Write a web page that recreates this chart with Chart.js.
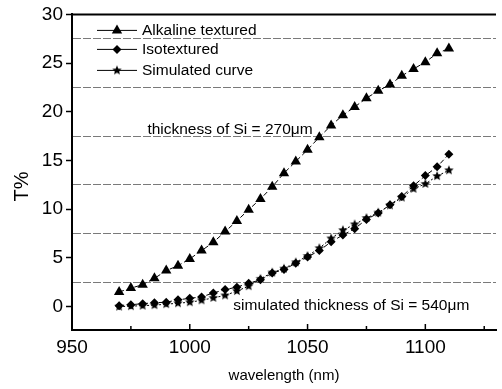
<!DOCTYPE html>
<html>
<head>
<meta charset="utf-8">
<title>T% vs wavelength</title>
<script src="https://cdn.jsdelivr.net/npm/chart.js"></script>
<style>
body { margin: 0; background: white; }
</style>
</head>
<body>
<canvas id="myChart" width="502" height="389"></canvas>
<script>
// data
const wavelength = [970, 975, 980, 985, 990, 995, 1000, 1005, 1010, 1015, 1020, 1025, 1030, 1035, 1040,
  1045, 1050, 1055, 1060, 1065, 1070, 1075, 1080, 1085, 1090, 1095, 1100, 1105, 1110];
const alkaline = [1.5, 1.9, 2.25, 2.9, 3.7, 4.2, 4.9, 5.75, 6.6, 7.7, 8.8, 9.95, 11.05, 12.3, 13.7,
  14.9, 16.1, 17.4, 18.6, 19.65, 20.5, 21.4, 22.15, 22.8, 23.7, 24.4, 25.1, 26.0, 26.5];
const isotextured = [0.1, 0.2, 0.3, 0.4, 0.45, 0.7, 0.85, 1.0, 1.4, 1.75, 2.0, 2.4, 2.75, 3.45, 3.8,
  4.45, 5.1, 5.75, 6.65, 7.35, 8.0, 8.95, 9.6, 10.45, 11.3, 12.4, 13.45, 14.35, 15.65];
const simulated = [0.0, 0.05, 0.1, 0.15, 0.25, 0.35, 0.45, 0.65, 0.9, 1.15, 1.6, 2.1, 2.85, 3.5, 3.9,
  4.55, 5.2, 6.0, 7.0, 7.85, 8.45, 9.1, 9.65, 10.4, 11.2, 12.1, 12.6, 13.4, 14.0];
const seriesNames = ["Alkaline textured", "Isotextured", "Simulated curve"];

const xTicks = [950, 975, 1000, 1025, 1050, 1075, 1100, 1125];
const yTicks = [0, 2.5, 5, 7.5, 10, 12.5, 15, 17.5, 20, 22.5, 25, 27.5, 30];

const noteTexts = ["thickness of Si = 270\u03bcm", "simulated thickness of Si = 540\u03bcm"];
const noteX = [982, 1018.5];
const noteY = [18.2, 0.1];

const FONT = "'Liberation Sans', Arial, sans-serif";

// filled five point star for the simulated curve
function makeStar(r) {
  const c = document.createElement('canvas');
  c.width = c.height = Math.ceil(r * 2) + 2;
  const g = c.getContext('2d');
  const cx = c.width / 2, cy = c.height / 2;
  g.beginPath();
  for (let i = 0; i < 10; i++) {
    const rr = i % 2 ? r * 0.45 : r;
    const a = -Math.PI / 2 + i * Math.PI / 5;
    g.lineTo(cx + rr * Math.cos(a), cy + rr * Math.sin(a));
  }
  g.closePath();
  g.fillStyle = 'black';
  g.fill();
  return c;
}
const star = makeStar(5);

function drawMarker(ctx, kind, x, y) {
  ctx.fillStyle = 'black';
  ctx.beginPath();
  if (kind === 0) {
    const r = 6;
    ctx.moveTo(x, y - r);
    ctx.lineTo(x + r * 0.866, y + r * 0.5);
    ctx.lineTo(x - r * 0.866, y + r * 0.5);
    ctx.closePath();
    ctx.fill();
  } else if (kind === 1) {
    const r = 4.5;
    ctx.moveTo(x, y - r);
    ctx.lineTo(x + r, y);
    ctx.lineTo(x, y + r);
    ctx.lineTo(x - r, y);
    ctx.closePath();
    ctx.fill();
  } else {
    ctx.drawImage(star, x - star.width / 2, y - star.height / 2);
  }
}

const extras = {
  id: 'extras',
  afterDraw(chart) {
    const {ctx, chartArea: a, scales: {x, y}} = chart;
    ctx.save();
    // inward ticks on the x axis
    ctx.strokeStyle = 'black';
    ctx.lineWidth = 1.5;
    x.ticks.forEach(t => {
      const px = x.getPixelForValue(t.value);
      const len = t.value % 50 === 0 ? 6 : 4;
      ctx.beginPath();
      ctx.moveTo(px, a.bottom);
      ctx.lineTo(px, a.bottom - len);
      ctx.stroke();
    });
    // top frame
    ctx.lineWidth = 2;
    ctx.beginPath();
    ctx.moveTo(a.left, a.top);
    ctx.lineTo(a.right, a.top);
    ctx.stroke();

    // y title, sits a little below the middle in the original
    ctx.save();
    ctx.translate(22, a.top + (a.bottom - a.top) * 0.545);
    ctx.rotate(-Math.PI / 2);
    ctx.font = "20px " + FONT;
    ctx.fillStyle = 'black';
    ctx.textAlign = 'center';
    ctx.textBaseline = 'middle';
    ctx.fillText('T%', 0, 0);
    ctx.restore();

    // legend
    const rows = [16, 35, 56];
    ctx.font = "15.5px " + FONT;
    ctx.textBaseline = 'middle';
    ctx.textAlign = 'left';
    rows.forEach((dy, i) => {
      const ly = a.top + dy;
      ctx.strokeStyle = 'black';
      ctx.lineWidth = 1;
      ctx.beginPath();
      ctx.moveTo(a.left + 25, ly);
      ctx.lineTo(a.left + 65, ly);
      ctx.stroke();
      drawMarker(ctx, i, a.left + 45, ly);
      ctx.fillStyle = 'black';
      ctx.fillText(seriesNames[i], a.left + 70, ly);
    });

    // notes
    noteTexts.forEach((txt, i) => {
      ctx.fillText(txt, x.getPixelForValue(noteX[i]), y.getPixelForValue(noteY[i]));
    });
    ctx.restore();
  }
};

function series(vals) {
  return wavelength.map((w, i) => ({x: w, y: vals[i]}));
}

new Chart("myChart", {
  type: "line",
  data: {
    datasets: [
      {
        label: seriesNames[0],
        data: series(alkaline),
        borderColor: 'black', borderWidth: 1, borderDash: [5, 3],
        pointStyle: 'triangle', pointRadius: 6,
        pointBackgroundColor: 'black', pointBorderColor: 'black', pointBorderWidth: 0
      },
      {
        label: seriesNames[1],
        data: series(isotextured),
        borderColor: 'black', borderWidth: 1, borderDash: [5, 3],
        pointStyle: 'rectRot', pointRadius: 4.5,
        pointBackgroundColor: 'black', pointBorderColor: 'black', pointBorderWidth: 0
      },
      {
        label: seriesNames[2],
        data: series(simulated),
        borderColor: 'black', borderWidth: 1, borderDash: [2, 2],
        pointStyle: star, pointRadius: 5
      }
    ]
  },
  options: {
    responsive: false,
    animation: false,
    layout: {padding: {top: 12, right: 0, left: 0, bottom: 0}},
    plugins: {legend: {display: false}, tooltip: {enabled: false}},
    scales: {
      x: {
        type: 'linear',
        min: 950, max: 1130,
        afterBuildTicks: s => { s.ticks = xTicks.map(v => ({value: v})); },
        afterFit: s => { s.height = 59; },
        grid: {display: false, drawTicks: false},
        border: {color: 'black', width: 2},
        ticks: {
          autoSkip: false, maxRotation: 0, padding: 6, color: 'black',
          font: {family: FONT, size: 19},
          callback: v => v % 50 === 0 ? v : ''
        },
        title: {
          display: true, text: 'wavelength (nm)', color: 'black',
          font: {family: FONT, size: 15}, padding: {top: 0, bottom: 4}
        }
      },
      y: {
        min: -2.4, max: 30,
        afterBuildTicks: s => { s.ticks = yTicks.map(v => ({value: v})); },
        afterFit: s => { s.width = 72; },
        grid: {
          lineWidth: 1,
          color: c => c.tick && c.tick.value % 5 !== 0 ? '#7a7a7a' : 'rgba(0,0,0,0)',
          tickColor: c => c.tick && c.tick.value % 5 === 0 ? 'black' : 'rgba(0,0,0,0)',
          tickLength: 6, tickWidth: 1.5
        },
        border: {color: 'black', width: 2, dash: [8, 2]},
        ticks: {
          autoSkip: false, padding: 3, color: 'black',
          font: {family: FONT, size: 19},
          callback: v => v % 5 === 0 ? v : ''
        }
      }
    }
  },
  plugins: [extras]
});
</script>
</body>
</html>
